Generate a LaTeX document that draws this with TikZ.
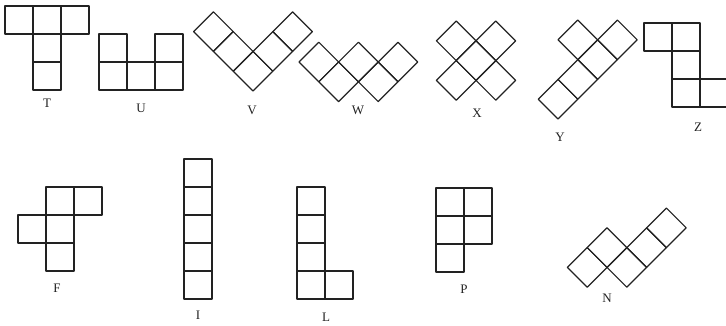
\documentclass[tikz,border=0pt]{standalone}
\usepackage{fontspec}
\setmainfont{Liberation Serif}
\usetikzlibrary{positioning}
\definecolor{PieceInk}{HTML}{222222}
\tikzset{
    % one square of a piece
    cellbox/.style={
        draw=PieceInk,
        line width=1.2pt,
        line join=round
    },
    % letter below a piece
    namelabel/.style={
        font=\fontsize{13}{15}\selectfont,
        text=PieceInk,
        inner sep=0pt
    }
}
\newcommand{\cellsize}{28}

\begin{document}
\begin{tikzpicture}[x=1pt, y=1pt]
    \useasboundingbox (0,0) rectangle (726,325);

    % T
    \begin{scope}[shift={(33,235)}]
        \foreach \i/\j in {0/0,0/1,-1/2,0/2,1/2} {
            \draw[cellbox] (\i*\cellsize,\j*\cellsize) rectangle ++(\cellsize,\cellsize);
        }
    \end{scope}
    \node[namelabel] (labT) at (47,222) {T};

    % U
    \begin{scope}[shift={(99,235)}]
        \foreach \i/\j in {0/0,1/0,2/0,0/1,2/1} {
            \draw[cellbox] (\i*\cellsize,\j*\cellsize) rectangle ++(\cellsize,\cellsize);
        }
    \end{scope}
    \node[namelabel] (labU) at (141,217) {U};

    % V
    \begin{scope}[shift={(253,234)}, rotate=45]
        \foreach \i/\j in {0/0,1/0,2/0,0/1,0/2} {
            \draw[cellbox] (\i*\cellsize,\j*\cellsize) rectangle ++(\cellsize,\cellsize);
        }
    \end{scope}
    \node[namelabel] (labV) at (252,215) {V};

    % W
    \begin{scope}[shift={(299,263)}, rotate=-45]
        \foreach \i/\j in {0/0,1/0,1/1,2/1,2/2} {
            \draw[cellbox] (\i*\cellsize,\j*\cellsize) rectangle ++(\cellsize,\cellsize);
        }
    \end{scope}
    \node[namelabel] (labW) at (358,215) {W};

    % X
    \begin{scope}[shift={(476,205)}, rotate=45]
        \foreach \i/\j in {1/0,0/1,1/1,2/1,1/2} {
            \draw[cellbox] (\i*\cellsize,\j*\cellsize) rectangle ++(\cellsize,\cellsize);
        }
    \end{scope}
    \node[namelabel] (labX) at (477,212) {X};

    % Y
    \begin{scope}[shift={(558,206)}, rotate=45]
        \foreach \i/\j in {0/0,1/0,2/0,3/0,2/1} {
            \draw[cellbox] (\i*\cellsize,\j*\cellsize) rectangle ++(\cellsize,\cellsize);
        }
    \end{scope}
    \node[namelabel] (labY) at (560,188) {Y};

    % Z
    \begin{scope}[shift={(672,218)}]
        \foreach \i/\j in {0/0,1/0,0/1,0/2,-1/2} {
            \draw[cellbox] (\i*\cellsize,\j*\cellsize) rectangle ++(\cellsize,\cellsize);
        }
    \end{scope}
    \node[namelabel] (labZ) at (698,198) {Z};

    % F
    \begin{scope}[shift={(46,54)}]
        \foreach \i/\j in {0/0,0/1,0/2,-1/1,1/2} {
            \draw[cellbox] (\i*\cellsize,\j*\cellsize) rectangle ++(\cellsize,\cellsize);
        }
    \end{scope}
    \node[namelabel] (labF) at (57,37) {F};

    % I
    \begin{scope}[shift={(184,26)}]
        \foreach \j in {0,...,4} {
            \draw[cellbox] (0,\j*\cellsize) rectangle ++(\cellsize,\cellsize);
        }
    \end{scope}
    \node[namelabel] (labI) at (198,10) {I};

    % L
    \begin{scope}[shift={(297,26)}]
        \foreach \i/\j in {0/0,0/1,0/2,0/3,1/0} {
            \draw[cellbox] (\i*\cellsize,\j*\cellsize) rectangle ++(\cellsize,\cellsize);
        }
    \end{scope}
    \node[namelabel] (labL) at (326,8) {L};

    % P
    \begin{scope}[shift={(436,53)}]
        \foreach \i/\j in {0/0,0/1,1/1,0/2,1/2} {
            \draw[cellbox] (\i*\cellsize,\j*\cellsize) rectangle ++(\cellsize,\cellsize);
        }
    \end{scope}
    \node[namelabel] (labP) at (464,36) {P};

    % N
    \begin{scope}[shift={(607,18)}, rotate=45]
        \foreach \i/\j in {0/1,1/1,1/0,2/0,3/0} {
            \draw[cellbox] (\i*\cellsize,\j*\cellsize) rectangle ++(\cellsize,\cellsize);
        }
    \end{scope}
    \node[namelabel] (labN) at (607,27) {N};
\end{tikzpicture}
\end{document}
